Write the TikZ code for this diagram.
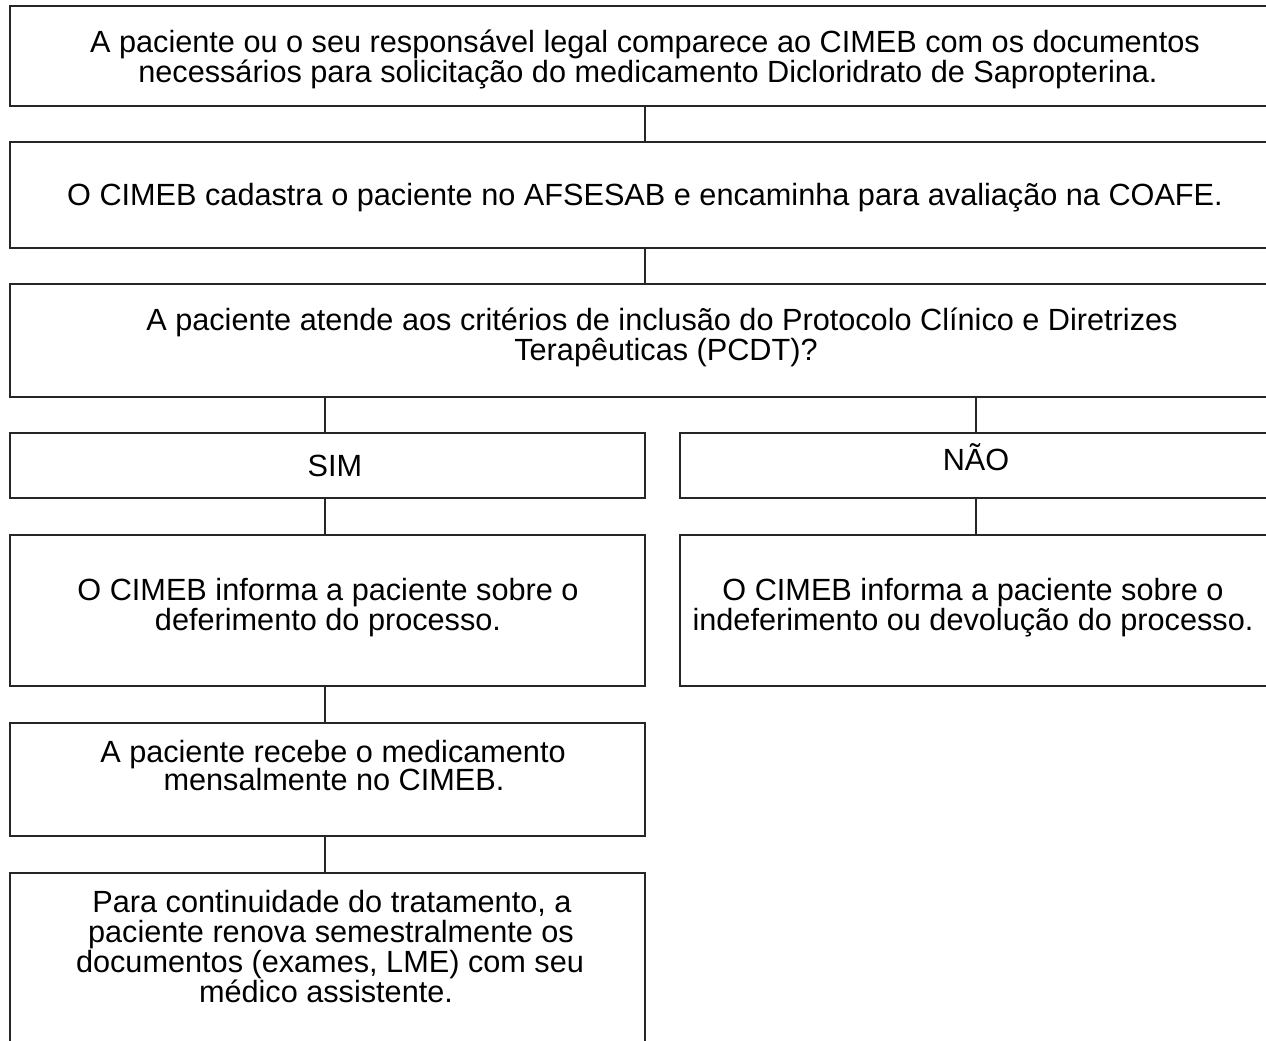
\documentclass[tikz,border=0pt]{standalone}
\usepackage{fontspec}
\setmainfont{Liberation Sans}
\begin{document}
\begin{tikzpicture}[x=0.75pt,y=-0.75pt,
  box/.style={draw=black!85, line width=1pt, inner sep=0pt, outer sep=0pt, rectangle},
  txt/.style={anchor=base, inner sep=0pt, font=\fontsize{23}{26}\selectfont},
  conn/.style={draw=black!85, line width=1pt}]
\useasboundingbox (0,0) rectangle (1266,1040);
\node[box, minimum width=946.5pt, minimum height=75pt] (b1) at (641,56) {};
\node[box, minimum width=946.5pt, minimum height=79.5pt] (b2) at (641,195) {};
\node[box, minimum width=946.5pt, minimum height=84.75pt] (b3) at (641,340.5) {};
\node[box, minimum width=476.25pt, minimum height=48.75pt] (sim) at (327.5,465.5) {};
\node[box, minimum width=444pt, minimum height=48.75pt] (nao) at (976,465.5) {};
\node[box, minimum width=476.25pt, minimum height=113.25pt] (simr) at (327.5,610.5) {};
\node[box, minimum width=444pt, minimum height=113.25pt] (naor) at (976,610.5) {};
\node[box, minimum width=476.25pt, minimum height=84.75pt] (rec) at (327.5,779.5) {};
\node[box, minimum width=476.25pt, minimum height=132.75pt] (last) at (327.5,961.5) {};
\coordinate (cm) at (645,0);
\coordinate (cl) at (325,0);
\coordinate (cr) at (976,0);
\draw[conn] (b1.south -| cm) -- (b2.north -| cm);
\draw[conn] (b2.south -| cm) -- (b3.north -| cm);
\draw[conn] (b3.south -| cl) -- (sim.north -| cl);
\draw[conn] (b3.south -| cr) -- (nao.north -| cr);
\draw[conn] (sim.south -| cl) -- (simr.north -| cl);
\draw[conn] (nao.south -| cr) -- (naor.north -| cr);
\draw[conn] (simr.south -| cl) -- (rec.north -| cl);
\draw[conn] (rec.south -| cl) -- (last.north -| cl);
% texts
\node[txt] (t1a) at (645,52) {A paciente ou o seu responsável legal comparece ao CIMEB com os documentos};
\node[txt] (t1b) at (648,82) {necessários para solicitação do medicamento Dicloridrato de Sapropterina.};
\node[txt] (t2) at (645,205) {O CIMEB cadastra o paciente no AFSESAB e encaminha para avaliação na COAFE.};
\node[txt] (t3a) at (662,330) {A paciente atende aos critérios de inclusão do Protocolo Clínico e Diretrizes};
\node[txt] (t3b) at (666,360) {Terapêuticas (PCDT)?};
\node[txt] (tsim) at (335,476) {SIM};
\node[txt] (tnao) at (976,470) {NÃO};
\node[txt] (t5a) at (328,600) {O CIMEB informa a paciente sobre o};
\node[txt] (t5b) at (328,630) {deferimento do processo.};
\node[txt] (t6a) at (973,600) {O CIMEB informa a paciente sobre o};
\node[txt] (t6b) at (973,630) {indeferimento ou devolução do processo.};
\node[txt] (t7a) at (333,762) {A paciente recebe o medicamento};
\node[txt] (t7b) at (334,790) {mensalmente no CIMEB.};
\node[txt] (t8a) at (332,912) {Para continuidade do tratamento, a};
\node[txt] (t8b) at (331,942) {paciente renova semestralmente os};
\node[txt] (t8c) at (330,972) {documentos (exames, LME) com seu};
\node[txt] (t8d) at (326,1002) {médico assistente.};
\end{tikzpicture}
\end{document}
